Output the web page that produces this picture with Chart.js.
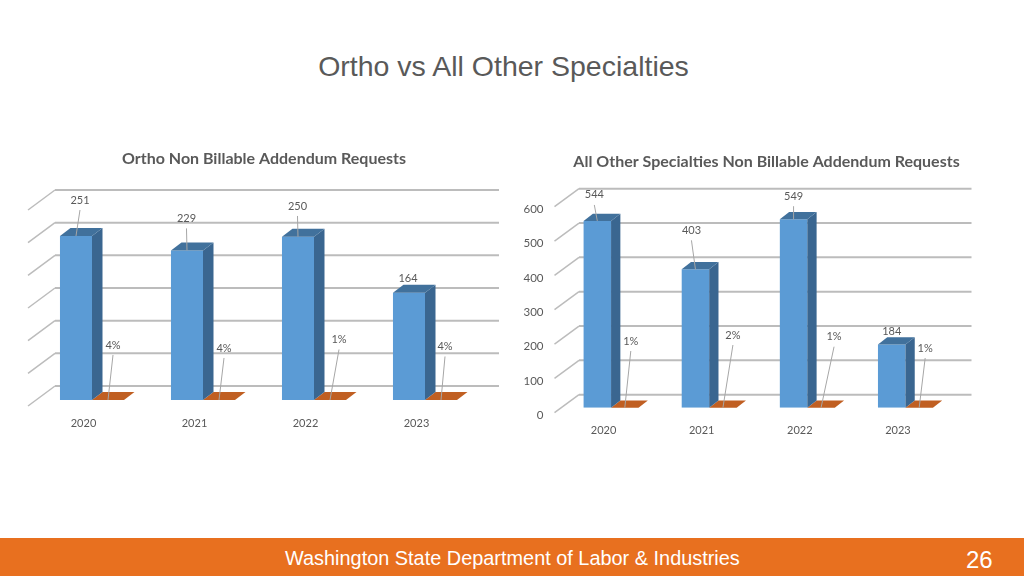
<!DOCTYPE html>
<html>
<head>
<meta charset="utf-8">
<script src="https://cdn.jsdelivr.net/npm/chart.js@4/dist/chart.umd.js"></script>
<style>
html,body{margin:0;padding:0;background:#fff;width:1024px;height:576px;overflow:hidden}
canvas{position:absolute;display:block}
#slideTitle{position:absolute;left:0;top:48px;width:1007px;text-align:center;font:28.5px "Liberation Sans",Arial,sans-serif;color:#595959;line-height:36px}
#footer{position:absolute;left:0;top:538px;width:1024px;height:38px;background:#E8701F}
#footText{position:absolute;left:285px;top:8px;font:19.9px "Liberation Sans",Arial,sans-serif;color:#fff;line-height:24px;white-space:nowrap}
#pageNum{position:absolute;left:966px;top:7px;font:24px "Liberation Sans",Arial,sans-serif;color:#fff;line-height:30px}
</style>
</head>
<body>
<div id="slideTitle">Ortho vs All Other Specialties</div>
<canvas id="left" width="505" height="300" style="left:0;top:140px"></canvas>
<canvas id="right" width="510" height="310" style="left:510px;top:140px"></canvas>
<div id="footer"><div id="footText">Washington State Department of Labor &amp; Industries</div><div id="pageNum">26</div></div>
<script>
const years = ['2020','2021','2022','2023'];
const orthoRequests = [251,229,250,164];
const orthoShare = [0.04,0.04,0.01,0.04];
const otherRequests = [544,403,549,184];
const otherShare = [0.01,0.02,0.01,0.01];

// Hand-placed data-label nudges, relative to each bar's top centre
const orthoCountNudge = [[4,-36],[-0.5,-32],[-0.5,-30.7],[-1,-14]];
const orthoShareNudge = [[5,-55],[5,-52],[9,-60.5],[4,-53.5]];
const otherCountNudge = [[-3,-26],[-4,-39],[0,-23],[0,-13.5]];
const otherShareNudge = [[6,-66.7],[10,-72.7],[13,-71],[6,-59.7]];

const TEXT = '#595959';
const GRID = '#bcbcbc';

const depthPlugin = {
  id: 'depth3d',
  beforeDatasetsDraw(chart, args, o) {
    const {ctx, chartArea: a, scales: {y}} = chart;
    ctx.save();
    ctx.strokeStyle = GRID;
    ctx.lineCap = 'butt';
    y.ticks.forEach(t => {
      const py = y.getPixelForValue(t.value);
      ctx.lineWidth = 1.5;
      ctx.beginPath();
      ctx.moveTo(a.left, py);
      ctx.lineTo(a.left + o.wallX, py - o.wallY);
      ctx.stroke();
      ctx.lineWidth = 2;
      ctx.beginPath();
      ctx.moveTo(a.left + o.wallX, py - o.wallY);
      ctx.lineTo(a.right + o.wallX, py - o.wallY);
      ctx.stroke();
    });
    ctx.restore();
  },
  beforeDatasetDraw(chart, args, o) {
    chart.ctx.save();
    chart.ctx.translate(o.shiftX, -o.shiftY);
  },
  afterDatasetDraw(chart, args, o) {
    const ctx = chart.ctx;
    const ds = chart.data.datasets[args.index];
    chart.getDatasetMeta(args.index).data.forEach(el => {
      const l = el.x - el.width / 2, r = el.x + el.width / 2;
      if (ds.sideColor) {
        ctx.fillStyle = ds.sideColor;
        ctx.beginPath();
        ctx.moveTo(r, el.base);
        ctx.lineTo(r + o.barX, el.base - o.barY);
        ctx.lineTo(r + o.barX, el.y - o.barY);
        ctx.lineTo(r, el.y);
        ctx.closePath();
        ctx.fill();
      }
      ctx.fillStyle = ds.topColor;
      ctx.beginPath();
      ctx.moveTo(l, el.y);
      ctx.lineTo(l + o.barX, el.y - o.barY);
      ctx.lineTo(r + o.barX, el.y - o.barY);
      ctx.lineTo(r, el.y);
      ctx.closePath();
      ctx.fill();
    });
    ctx.restore();
  },
  afterDraw(chart, args, o) {
    const ctx = chart.ctx;
    ctx.save();
    chart.data.datasets.forEach((ds, di) => {
      chart.getDatasetMeta(di).data.forEach((el, i) => {
        const bx = el.x + o.shiftX, by = el.y - o.shiftY;
        const lx = bx + ds.nudge[i][0], ly = by + ds.nudge[i][1];
        if (ly < by - 18) {
          ctx.strokeStyle = '#a6a6a6';
          ctx.lineWidth = 1;
          ctx.beginPath();
          ctx.moveTo(lx, ly + 10);
          ctx.lineTo(bx, by);
          ctx.stroke();
        }
        ctx.fillStyle = TEXT;
        ctx.font = '11px Lato';
        ctx.textAlign = 'center';
        ctx.textBaseline = 'middle';
        ctx.fillText(ds.format(ds.data[i]), lx, ly);
      });
    });
    ctx.restore();
  },
  afterLayout(chart, args, o) {
    chart.titleBlock.left = o.titleCenter - 240;
    chart.titleBlock.right = o.titleCenter + 240;
  }
};

function makeChart(id, cfg) {
  return new Chart(document.getElementById(id), {
    type: 'bar',
    plugins: [depthPlugin],
    data: {
      labels: years,
      datasets: [
        {label: 'Requests', data: cfg.counts, nudge: cfg.countNudge, format: v => String(v),
         backgroundColor: '#5B9BD5', sideColor: '#3A6690', topColor: '#41719C',
         categoryPercentage: cfg.catPct, barPercentage: 1},
        {label: 'Share', data: cfg.shares, nudge: cfg.shareNudge, format: v => Math.round(v * 100) + '%',
         backgroundColor: '#C55A11', topColor: '#C05F22',
         categoryPercentage: cfg.catPct, barPercentage: 1}
      ]
    },
    options: {
      responsive: false,
      animation: false,
      layout: {padding: {left: 0, right: cfg.padRight, top: 0, bottom: 0}},
      plugins: {
        legend: {display: false},
        tooltip: {enabled: false},
        title: {display: true, text: cfg.title, color: TEXT,
          font: {family: 'Lato', size: 16, weight: 'bold', lineHeight: 1.2},
          padding: {top: cfg.titleTop, bottom: cfg.titleBottom}},
        depth3d: cfg.depth
      },
      scales: {
        x: {
          grid: {display: false}, border: {display: false},
          ticks: {color: TEXT, font: {family: 'Lato', size: 11}, padding: cfg.xPad},
          afterFit(s) { s.height = cfg.xHeight; }
        },
        y: {
          min: 0, max: cfg.max,
          grid: {display: false, drawTicks: false}, border: {display: false},
          ticks: {stepSize: cfg.step, display: cfg.showY, color: TEXT, font: {family: 'Lato', size: 11.5}, padding: 11},
          afterFit(s) {
            s.width = cfg.yWidth;
            if (!s._labelsLowered) {
              s._labelsLowered = true;
              const items = s._computeLabelItems.bind(s);
              s._computeLabelItems = area => items(area).map(it => ({
                ...it,
                options: {...it.options, translation: [it.options.translation[0], it.options.translation[1] + 2.5]}
              }));
            }
          }
        }
      }
    }
  });
}

makeChart('left', {
  title: 'Ortho Non Billable Addendum Requests',
  counts: orthoRequests, shares: orthoShare,
  countNudge: orthoCountNudge, shareNudge: orthoShareNudge,
  max: 300, step: 50, showY: false,
  yWidth: 28, padRight: 33, xHeight: 34, xPad: 3,
  titleTop: 9.5, titleBottom: 41.3, catPct: 0.577,
  depth: {wallX: 27, wallY: 20, shiftX: 8.5, shiftY: 6, barX: 10.5, barY: 8, titleCenter: 264}
});
makeChart('right', {
  title: 'All Other Specialties Non Billable Addendum Requests',
  counts: otherRequests, shares: otherShare,
  countNudge: otherCountNudge, shareNudge: otherShareNudge,
  max: 600, step: 100, showY: true,
  yWidth: 44.5, padRight: 73, xHeight: 37.3, xPad: 3,
  titleTop: 12.4, titleBottom: 35.1, catPct: 0.56,
  depth: {wallX: 24.5, wallY: 18, shiftX: 7.5, shiftY: 5, barX: 9.3, barY: 7.3, titleCenter: 256.5}
});
</script>
</body>
</html>
